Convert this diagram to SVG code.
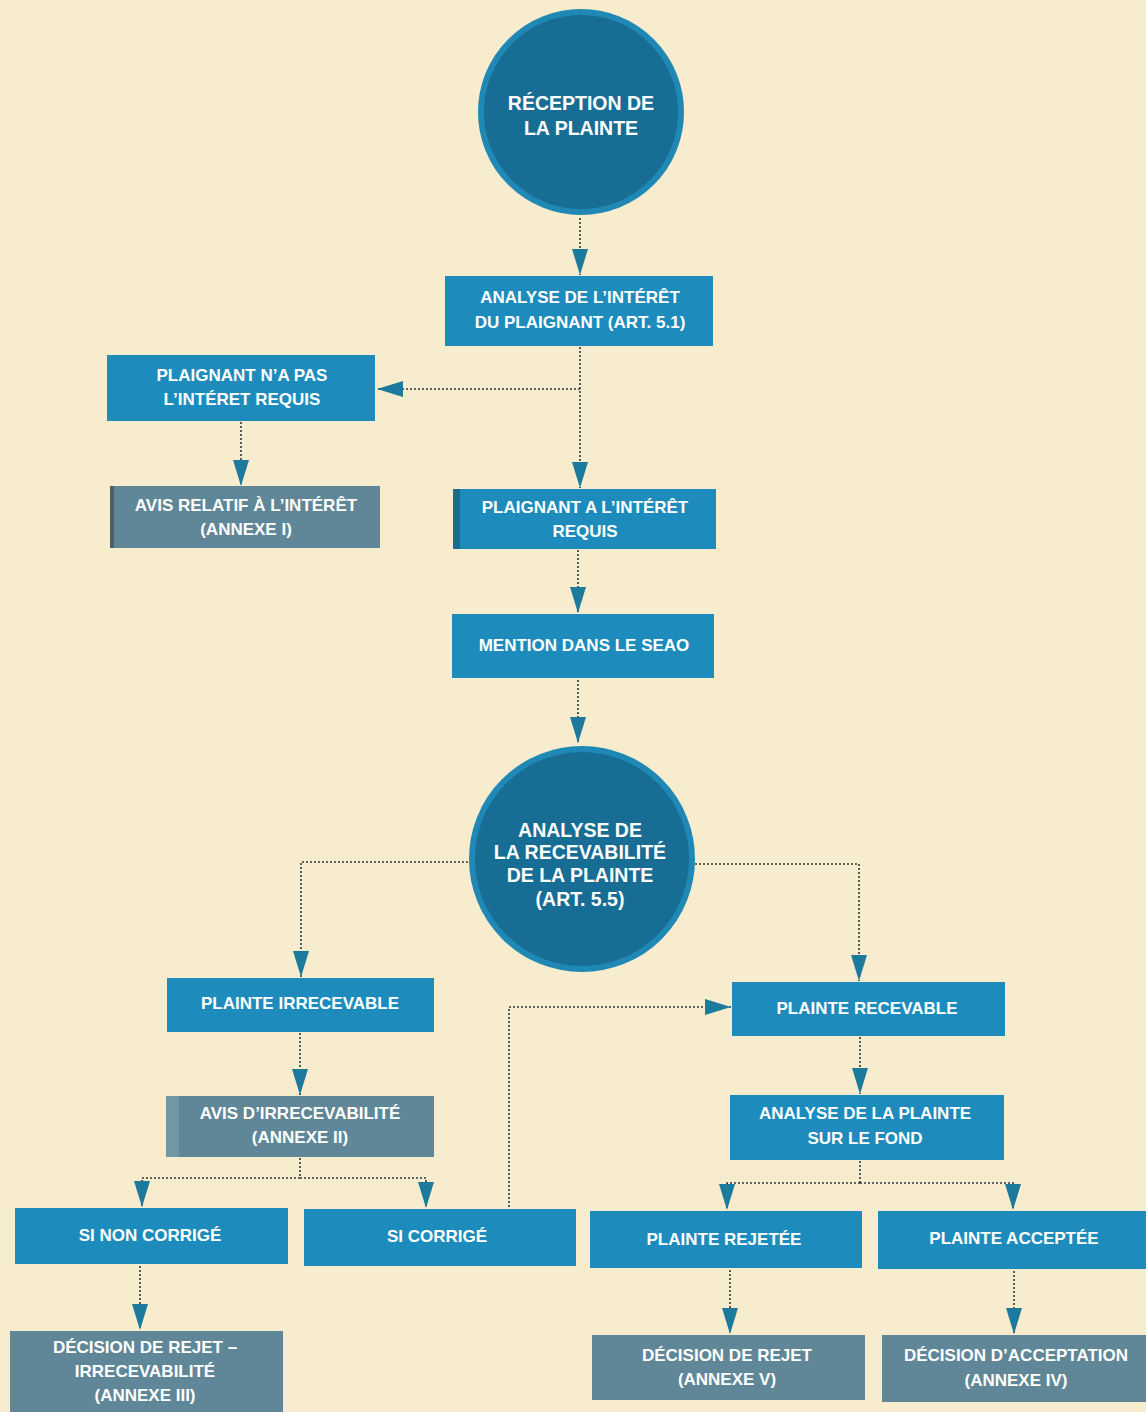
<svg xmlns="http://www.w3.org/2000/svg" width="1146" height="1412" viewBox="0 0 1146 1412">
<defs>
<style>
.bg{fill:#f7ecce}
.blue{fill:#1d8cbc}
.gray{fill:#5f8797}
.circ{fill:#176d94;stroke:#2088b4;stroke-width:6}
.t{font-family:"Liberation Sans",Arial,sans-serif;font-weight:bold;font-size:17px;fill:#ffffff;text-anchor:middle}
.tc{font-family:"Liberation Sans",Arial,sans-serif;font-weight:bold;fill:#ffffff;text-anchor:middle}
.c{fill:none;stroke:#2b3a40;stroke-width:1.6;stroke-dasharray:2 2}
</style>
<marker id="ah" viewBox="0 -8 26 16" refX="26" refY="0" markerWidth="26" markerHeight="16" markerUnits="userSpaceOnUse" orient="auto">
<path d="M0,-8 L26,0 L0,8 Z" fill="#1c7a9c"/>
</marker>
</defs>
<rect class="bg" x="0" y="0" width="1146" height="1412"/>

<g id="connectors">
<path class="c" d="M580,218 V275" marker-end="url(#ah)"/>
<path class="c" d="M580,347 V488" marker-end="url(#ah)"/>
<path class="c" d="M580,389 H377" marker-end="url(#ah)"/>
<path class="c" d="M241,422 V486" marker-end="url(#ah)"/>
<path class="c" d="M578,550 V613" marker-end="url(#ah)"/>
<path class="c" d="M578,680 V743" marker-end="url(#ah)"/>
<path class="c" d="M468,862 H301 V977" marker-end="url(#ah)"/>
<path class="c" d="M695,864 H859 V981" marker-end="url(#ah)"/>
<path class="c" d="M300,1033 V1095" marker-end="url(#ah)"/>
<path class="c" d="M860,1037 V1094" marker-end="url(#ah)"/>
<path class="c" d="M509,1207 V1007 H731" marker-end="url(#ah)"/>
<path class="c" d="M300,1158 V1178"/>
<path class="c" d="M300,1178 H142 V1207" marker-end="url(#ah)"/>
<path class="c" d="M300,1178 H426 V1208" marker-end="url(#ah)"/>
<path class="c" d="M860,1161 V1183"/>
<path class="c" d="M860,1183 H727 V1210" marker-end="url(#ah)"/>
<path class="c" d="M860,1183 H1013 V1210" marker-end="url(#ah)"/>
<path class="c" d="M140,1266 V1330" marker-end="url(#ah)"/>
<path class="c" d="M730,1270 V1334" marker-end="url(#ah)"/>
<path class="c" d="M1014,1271 V1334" marker-end="url(#ah)"/>
</g>

<g id="n-reception">
<circle class="circ" cx="581" cy="112" r="100"/>
<text class="tc" font-size="19.5" x="581" y="110">RÉCEPTION DE</text>
<text class="tc" font-size="19.5" x="581" y="135">LA PLAINTE</text>
</g>

<g id="n-analyse-interet">
<rect class="blue" x="445" y="276" width="268" height="70"/>
<text class="t" x="580" y="303">ANALYSE DE L’INTÉRÊT</text>
<text class="t" x="580" y="328">DU PLAIGNANT (ART. 5.1)</text>
</g>

<g id="n-napas">
<rect class="blue" x="107" y="355" width="268" height="66"/>
<text class="t" x="242" y="381">PLAIGNANT N’A PAS</text>
<text class="t" x="242" y="405">L’INTÉRET REQUIS</text>
</g>

<g id="n-avis-interet">
<rect class="gray" x="110" y="486" width="270" height="62"/>
<rect x="110" y="486" width="4" height="62" fill="#4a5f68"/>
<text class="t" x="246" y="511">AVIS RELATIF À L’INTÉRÊT</text>
<text class="t" x="246" y="535">(ANNEXE I)</text>
</g>

<g id="n-a-interet">
<rect class="blue" x="453" y="489" width="263" height="60"/>
<rect x="453" y="489" width="7" height="60" fill="#176e8f"/>
<text class="t" x="585" y="513">PLAIGNANT A L’INTÉRÊT</text>
<text class="t" x="585" y="537">REQUIS</text>
</g>

<g id="n-mention">
<rect class="blue" x="452" y="614" width="262" height="64"/>
<text class="t" x="584" y="651">MENTION DANS LE SEAO</text>
</g>

<g id="n-recevabilite">
<circle class="circ" cx="582" cy="859" r="110"/>
<text class="tc" font-size="19.5" x="580" y="837">ANALYSE DE</text>
<text class="tc" font-size="19.5" x="580" y="859">LA RECEVABILITÉ</text>
<text class="tc" font-size="19.5" x="580" y="882">DE LA PLAINTE</text>
<text class="tc" font-size="19.5" x="580" y="906">(ART. 5.5)</text>
</g>

<g id="n-irrecevable">
<rect class="blue" x="167" y="978" width="267" height="54"/>
<text class="t" x="300" y="1009">PLAINTE IRRECEVABLE</text>
</g>

<g id="n-recevable">
<rect class="blue" x="732" y="982" width="273" height="54"/>
<text class="t" x="867" y="1014">PLAINTE RECEVABLE</text>
</g>

<g id="n-avis-irrecevabilite">
<rect class="gray" x="166" y="1096" width="268" height="61"/>
<rect x="166" y="1096" width="13" height="61" fill="#6e98a6"/>
<text class="t" x="300" y="1119">AVIS D’IRRECEVABILITÉ</text>
<text class="t" x="300" y="1143">(ANNEXE II)</text>
</g>

<g id="n-fond">
<rect class="blue" x="730" y="1095" width="274" height="65"/>
<text class="t" x="865" y="1119">ANALYSE DE LA PLAINTE</text>
<text class="t" x="865" y="1144">SUR LE FOND</text>
</g>

<g id="n-non-corrige">
<rect class="blue" x="15" y="1208" width="273" height="56"/>
<text class="t" x="150" y="1241">SI NON CORRIGÉ</text>
</g>

<g id="n-corrige">
<rect class="blue" x="304" y="1209" width="272" height="57"/>
<text class="t" x="437" y="1242">SI CORRIGÉ</text>
</g>

<g id="n-rejetee">
<rect class="blue" x="590" y="1211" width="272" height="57"/>
<text class="t" x="724" y="1245">PLAINTE REJETÉE</text>
</g>

<g id="n-acceptee">
<rect class="blue" x="878" y="1211" width="268" height="58"/>
<text class="t" x="1014" y="1244">PLAINTE ACCEPTÉE</text>
</g>

<g id="n-decision-irrecevabilite">
<rect class="gray" x="10" y="1331" width="273" height="81"/>
<text class="t" x="145" y="1353">DÉCISION DE REJET –</text>
<text class="t" x="145" y="1377">IRRECEVABILITÉ</text>
<text class="t" x="145" y="1401">(ANNEXE III)</text>
</g>

<g id="n-decision-rejet">
<rect class="gray" x="592" y="1335" width="273" height="65"/>
<text class="t" x="727" y="1361">DÉCISION DE REJET</text>
<text class="t" x="727" y="1385">(ANNEXE V)</text>
</g>

<g id="n-decision-acceptation">
<rect class="gray" x="882" y="1335" width="264" height="67"/>
<text class="t" x="1016" y="1361">DÉCISION D’ACCEPTATION</text>
<text class="t" x="1016" y="1386">(ANNEXE IV)</text>
</g>
</svg>
